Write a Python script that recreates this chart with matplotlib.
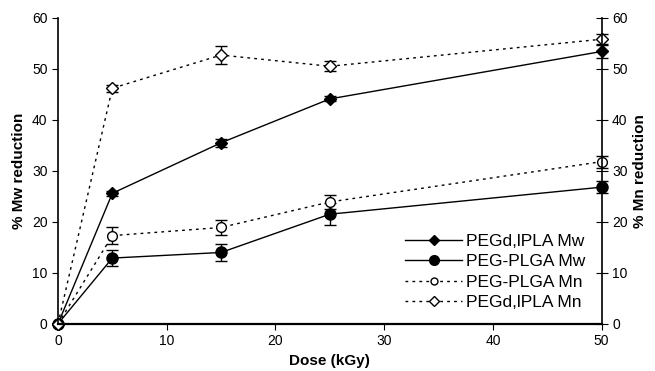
import matplotlib.pyplot as plt
from matplotlib.lines import Line2D

plt.rcParams['font.family'] = ['Liberation Sans', 'DejaVu Sans']

# Dane
dose = [0, 5, 15, 25, 50]

pla_mw = [0, 25.6, 35.5, 44.1, 53.4]
pla_mw_err = [0, 0.5, 0.8, 0.5, 1.2]

plga_mw = [0, 12.9, 14.0, 21.5, 26.8]
plga_mw_err = [0, 1.6, 1.7, 2.1, 1.2]

plga_mn = [0, 17.3, 18.9, 23.9, 31.8]
plga_mn_err = [0, 1.7, 1.5, 1.3, 1.2]

pla_mn = [0, 46.2, 52.7, 50.5, 55.8]
pla_mn_err = [0, 0.7, 1.8, 1.0, 1.0]

labels = ['PEGd,lPLA Mw', 'PEG-PLGA Mw', 'PEG-PLGA Mn', 'PEGd,lPLA Mn']

fig = plt.figure(figsize=(6.55, 3.71), dpi=100)
ax = fig.add_axes([0.0885, 0.127, 0.830, 0.825])

dotted = (0, (2, 3))
kw = dict(color='black', capsize=4, elinewidth=1, capthick=1, linewidth=1)
ax.errorbar(dose, pla_mw, yerr=pla_mw_err, marker='D', markersize=6,
            linestyle='-', **kw)
ax.errorbar(dose, plga_mw, yerr=plga_mw_err, marker='o', markersize=8,
            linestyle='-', **kw)
ax.errorbar(dose, plga_mn, yerr=plga_mn_err, marker='o', markersize=7, mfc='white',
            linestyle=dotted, **kw)
ax.errorbar(dose, pla_mn, yerr=pla_mn_err, marker='D', markersize=6, mfc='white',
            linestyle=dotted, **kw)

ax.set_xlim(0, 50)
ax.set_ylim(0, 60)
ax.set_xticks([0, 10, 20, 30, 40, 50])
ax.set_yticks([0, 10, 20, 30, 40, 50, 60])
ax.spines['top'].set_visible(False)
ax.spines['right'].set_visible(False)
ax.spines['bottom'].set_linewidth(1.6)
ax.spines['left'].set_linewidth(1.2)
ax.tick_params(axis='both', labelsize=10, direction='out', length=4)
ax.set_xlabel('Dose (kGy)', fontsize=11, fontweight='bold')
ax.set_ylabel('% Mw reduction', fontsize=11, fontweight='bold')
for art in ax.get_children():
    art.set_clip_on(False)

ax2 = ax.twinx()
ax2.set_ylim(0, 60)
ax2.set_yticks([0, 10, 20, 30, 40, 50, 60])
ax2.spines['top'].set_visible(False)
ax2.spines['left'].set_visible(False)
ax2.spines['bottom'].set_visible(False)
ax2.spines['right'].set_linewidth(1.2)
ax2.tick_params(axis='y', labelsize=10, direction='inout', length=8)
ax2.set_ylabel('% Mn reduction', fontsize=11, fontweight='bold')

# Legenda bez słupków błędów
handles = [
    Line2D([], [], color='black', lw=1, ls='-', marker='D', markersize=5),
    Line2D([], [], color='black', lw=1, ls='-', marker='o', markersize=7),
    Line2D([], [], color='black', lw=1, ls=dotted, marker='o', markersize=5, mfc='white'),
    Line2D([], [], color='black', lw=1, ls=dotted, marker='D', markersize=5, mfc='white'),
]
ax.legend(handles, labels, loc='lower right', bbox_to_anchor=(0.995, 0.0),
          frameon=False, fontsize=12.5, handlelength=3.3, handletextpad=0.2,
          labelspacing=0.3, borderpad=0.3)

plt.savefig('out.png', dpi=100)
plt.close()
